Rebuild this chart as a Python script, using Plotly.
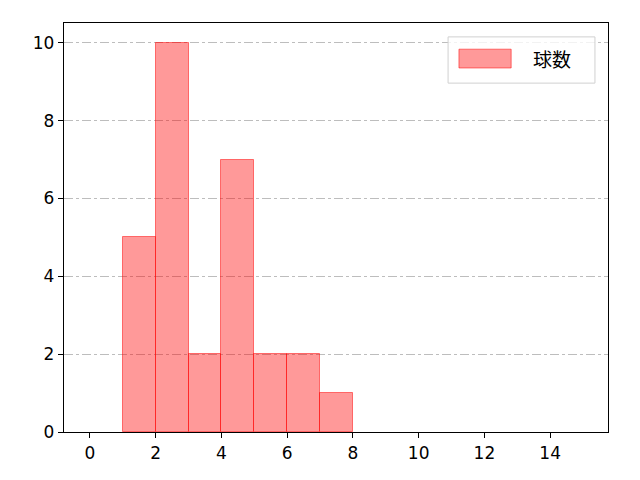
import plotly.graph_objects as go

bin_left = [1, 2, 3, 4, 5, 6, 7]
counts = [5, 10, 2, 7, 2, 2, 1]
series_name = "球数"
x_ticks = [0, 2, 4, 6, 8, 10, 12, 14]
y_ticks = [0, 2, 4, 6, 8, 10]

font = "Noto Sans CJK JP, DejaVu Sans, sans-serif"
tick_font = dict(family="DejaVu Sans, sans-serif", size=17, color="black")

fig = go.Figure()
fig.add_trace(go.Bar(
    x=[b + 0.5 for b in bin_left], y=counts, width=1,
    marker=dict(color="rgba(255,0,0,0.4)", line=dict(color="rgba(255,0,0,0.5)", width=1)),
    name=series_name, showlegend=False,
))

fig.update_layout(
    width=640, height=480,
    margin=dict(l=56, r=40, t=15, b=56),
    plot_bgcolor="white", paper_bgcolor="white",
    font=dict(family=font, size=18, color="black"),
    bargap=0,
    xaxis=dict(range=[-0.79, 15.76], tickvals=x_ticks, showgrid=False, zeroline=False,
               showline=True, linecolor="black", linewidth=1.3, mirror=True,
               ticks="outside", ticklen=5, tickcolor="black", tickfont=tick_font),
    yaxis=dict(range=[0, 10.51], tickvals=y_ticks, showgrid=True, gridcolor="#bdbdbd",
               griddash="dashdot", gridwidth=0.8, zeroline=False,
               showline=True, linecolor="black", linewidth=1.3, mirror=True,
               ticks="outside", ticklen=5, tickcolor="black", tickfont=tick_font),
    shapes=[
        dict(type="rect", xref="paper", yref="paper", x0=0.706, x1=0.976, y0=0.853, y1=0.966,
             line=dict(color="#d0d0d0", width=1), fillcolor="rgba(255,255,255,0.8)", layer="above"),
        dict(type="rect", xref="paper", yref="paper", x0=0.726, x1=0.822, y0=0.890, y1=0.936,
             line=dict(color="rgba(255,0,0,0.5)", width=1), fillcolor="rgba(255,0,0,0.4)", layer="above"),
    ],
    annotations=[
        dict(text=series_name, xref="paper", yref="paper", x=0.858, y=0.912, xanchor="left",
             yanchor="middle", showarrow=False, font=dict(size=19, color="black")),
    ],
)

fig.write_html("out.html")
